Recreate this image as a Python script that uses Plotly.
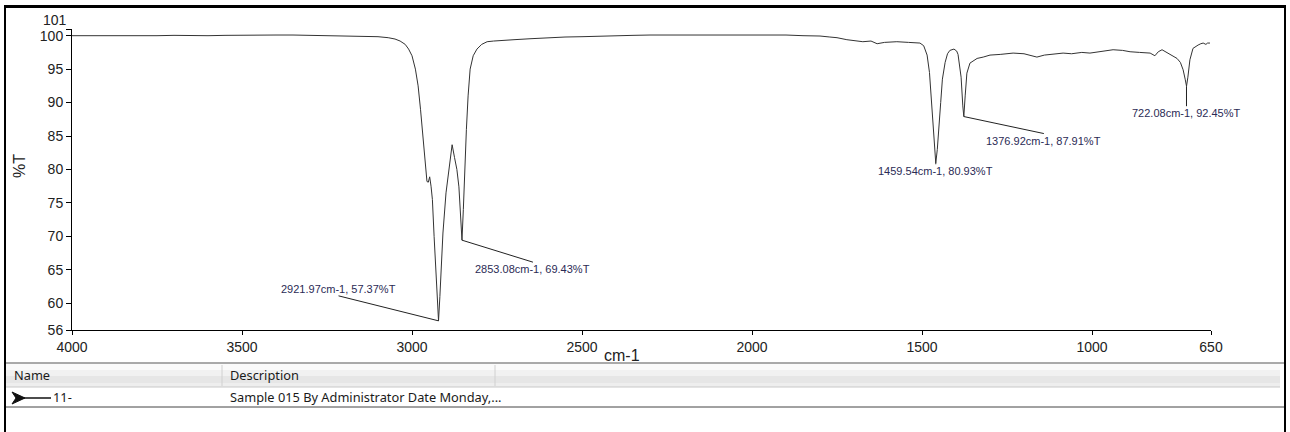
import plotly.graph_objects as go

# ---------------- data ----------------
wavenumber = [4000, 3950, 3900, 3850, 3800, 3750, 3700, 3650, 3600, 3550, 3500, 3450, 3400,
              3350, 3300, 3250, 3200, 3150, 3100, 3070, 3050, 3035, 3020, 3010, 3000, 2990,
              2982, 2975, 2968, 2962, 2956, 2952, 2948, 2944, 2940, 2935, 2930, 2926, 2922,
              2918, 2913, 2909, 2900, 2890, 2882, 2875, 2868, 2862, 2857, 2853, 2849, 2845,
              2840, 2835, 2829, 2820, 2809, 2795, 2779, 2760, 2732, 2700, 2650, 2600, 2550,
              2500, 2450, 2400, 2350, 2300, 2250, 2200, 2150, 2100, 2050, 2000, 1950, 1900,
              1850, 1800, 1771, 1750, 1721, 1700, 1674, 1650, 1632, 1610, 1574, 1540, 1506,
              1495, 1485, 1478, 1472, 1467, 1463, 1459.5, 1455, 1450, 1445, 1440, 1432, 1425,
              1418, 1406, 1398, 1394, 1389, 1385, 1380, 1377, 1373, 1368, 1359, 1345, 1338,
              1320, 1300, 1270, 1232, 1200, 1180, 1162, 1140, 1110, 1085, 1060, 1030, 1006,
              980, 960, 938, 910, 888, 860, 829, 815, 805, 794, 780, 765, 750, 740, 732, 726,
              722, 718, 712, 703, 695, 688, 680, 673, 665, 660, 653]
transmittance = [100.0, 100.0, 99.95, 100.0, 99.9, 100.0, 100.05, 100.0, 100.0, 100.05, 100.1,
                 100.05, 100.1, 100.1, 100.0, 100.0, 99.95, 99.9, 99.85, 99.7, 99.5, 99.2, 98.7,
                 98.0, 97.0, 95.0, 92.5, 89.0, 85.4, 81.5, 78.2, 78.1, 78.9, 77.5, 75.5, 70.0,
                 64.5, 60.5, 57.37, 61.0, 66.0, 70.5, 76.5, 81.0, 83.7, 81.8, 80.0, 77.4, 72.5,
                 69.43, 74.0, 80.0, 86.0, 91.0, 95.0, 97.0, 98.0, 98.7, 99.1, 99.2, 99.25, 99.4,
                 99.55, 99.7, 99.8, 99.85, 99.95, 100.0, 100.05, 100.1, 100.1, 100.15, 100.1,
                 100.2, 100.2, 100.15, 100.1, 100.1, 100.0, 99.95, 99.8, 99.7, 99.4, 99.3, 99.1,
                 99.2, 98.8, 99.0, 99.1, 99.0, 98.9, 98.5, 97.1, 94.5, 90.0, 85.4, 82.5, 80.93,
                 83.0, 86.0, 90.0, 93.5, 96.0, 97.3, 97.8, 98.0, 97.7, 97.2, 95.5, 93.8, 89.5,
                 87.91, 91.0, 94.4, 95.9, 96.4, 96.6, 96.8, 97.1, 97.2, 97.4, 97.3, 97.0, 96.8,
                 97.1, 97.3, 97.4, 97.3, 97.5, 97.4, 97.6, 97.7, 97.9, 97.8, 97.6, 97.5, 97.4,
                 97.0, 97.6, 97.9, 97.5, 97.1, 96.6, 96.0, 94.9, 93.5, 92.45, 93.8, 96.4, 98.1,
                 98.4, 98.6, 98.8, 98.9, 98.7, 98.9, 98.9]

peak_wn = [2921.97, 2853.08, 1459.54, 1376.92, 722.08]
peak_T = [57.37, 69.43, 80.93, 87.91, 92.45]

x_ticks = [4000, 3500, 3000, 2500, 2000, 1500, 1000, 650]
y_ticks = [56, 60, 65, 70, 75, 80, 85, 90, 95, 100, 101]

x_title = "cm-1"
y_title = "%T"
table_headers = ["Name", "Description"]
row_name = "11-"
row_desc = "Sample 015 By Administrator Date Monday,..."

# ---------------- layout helpers ----------------
W, H = 1290, 432
L, R, T, B = 72, 1211, 29, 330


def px(x):
    return (x - L) / (R - L)


def py(y):
    return (B - y) / (B - T)


fig = go.Figure()
fig.add_trace(go.Scatter(x=wavenumber, y=transmittance, mode="lines",
                         line=dict(color="#333333", width=1), hoverinfo="skip",
                         showlegend=False))

# peak labels with leader lines
offsets = [(-100, -25, "bottom"), (71, 22, "top"), (0, 1, "top"), (80, 17, "top"), (0, 20, "top")]
for w, t, (ax, ay, ya) in zip(peak_wn, peak_T, offsets):
    fig.add_annotation(x=w, y=t, xref="x", yref="y",
                       text=f"{w:.2f}cm-1, {t:.2f}%T",
                       showarrow=True, arrowhead=0, arrowwidth=1, arrowcolor="#222222",
                       ax=ax, ay=ay, xanchor="center", yanchor=ya, standoff=0,
                       borderpad=0,
                       font=dict(family="Liberation Sans", size=11, color="#2b2b55"))

axis_font = dict(family="Liberation Sans", size=14, color="#222222")


def label(x, y, text, font, xanchor="center", **kw):
    fig.add_annotation(x=px(x), y=py(y), xref="paper", yref="paper", text=text,
                       showarrow=False, xanchor=xanchor, yanchor="middle", font=font, **kw)


# axis titles
label(622, 356, x_title, dict(family="Liberation Sans", size=16, color="#222"))
label(19, 166, y_title, dict(family="Liberation Sans", size=16, color="#222"), textangle=-90)
# top tick label "101" drawn slightly raised (as in the reference) to avoid overlapping "100"
label(69, 20, str(y_ticks[-1]), axis_font, xanchor="right")

shapes = []
# header gradient bands
bands = [(364, 370, "#fafafa"), (370, 376, "#f1f1f1"), (376, 383, "#e6e6e6"), (383, 387, "#eeeeee")]
for y0, y1, c in bands:
    shapes.append(dict(type="rect", xref="paper", yref="paper", x0=px(6), x1=px(1280),
                       y0=py(y1), y1=py(y0), fillcolor=c, line=dict(width=0), layer="below"))
# table lines
shapes.append(dict(type="line", xref="paper", yref="paper", x0=px(5), x1=px(1285),
                   y0=py(363), y1=py(363), line=dict(color="#555555", width=1)))
shapes.append(dict(type="line", xref="paper", yref="paper", x0=px(5), x1=px(1280),
                   y0=py(387), y1=py(387), line=dict(color="#c8c8c8", width=1)))
shapes.append(dict(type="line", xref="paper", yref="paper", x0=px(5), x1=px(1285),
                   y0=py(407), y1=py(407), line=dict(color="#444444", width=1)))
for cx in (222, 495):
    shapes.append(dict(type="line", xref="paper", yref="paper", x0=px(cx), x1=px(cx),
                       y0=py(386), y1=py(365), line=dict(color="#d0d0d0", width=1)))
# row icon: arrowhead + line
shapes.append(dict(type="path", xref="paper", yref="paper",
                   path=f"M {px(12)},{py(392)} L {px(25)},{py(398)} L {px(12)},{py(404)} L {px(16)},{py(398)} Z",
                   fillcolor="#111111", line=dict(color="#111111", width=1)))
shapes.append(dict(type="line", xref="paper", yref="paper", x0=px(23), x1=px(51),
                   y0=py(398), y1=py(398), line=dict(color="#111111", width=1.5)))
# outer frame
shapes.append(dict(type="line", xref="paper", yref="paper", x0=px(4), x1=px(1286),
                   y0=py(6.5), y1=py(6.5), line=dict(color="#000000", width=3)))
shapes.append(dict(type="line", xref="paper", yref="paper", x0=px(5), x1=px(5),
                   y0=py(5), y1=py(440), line=dict(color="#000000", width=2)))
shapes.append(dict(type="line", xref="paper", yref="paper", x0=px(1285), x1=px(1285),
                   y0=py(5), y1=py(440), line=dict(color="#000000", width=2)))

tfont = dict(family="Noto Sans", size=12.8, color="#1a1a1a")
label(12, 375, table_headers[0], tfont, xanchor="left")
label(228, 375, table_headers[1], tfont, xanchor="left")
label(51, 397, row_name, tfont, xanchor="left")
label(228, 397, row_desc, tfont, xanchor="left")

fig.update_layout(
    width=W, height=H, autosize=False,
    margin=dict(l=L, r=W - R, t=T, b=H - B, pad=0),
    paper_bgcolor="white", plot_bgcolor="white",
    shapes=shapes,
    xaxis=dict(range=[4000, 650], tickmode="array", tickvals=x_ticks,
               ticktext=[str(v) for v in x_ticks], showgrid=False, zeroline=False,
               showline=True, linecolor="#000000", linewidth=1, ticks="outside",
               ticklen=4, tickcolor="#000000", tickfont=axis_font),
    yaxis=dict(range=[56, 101], tickmode="array", tickvals=y_ticks,
               ticktext=[str(v) for v in y_ticks[:-1]] + [""], showgrid=False, zeroline=False,
               showline=True, linecolor="#000000", linewidth=1, ticks="outside",
               ticklen=5, tickcolor="#000000", tickfont=axis_font),
)

fig.write_html("out.html", config={"displayModeBar": False})

# remove the browser's default page margin so the figure sits at the window origin
with open("out.html", "r", encoding="utf-8") as f:
    html = f.read()
html = html.replace("<head>", "<head><style>html,body{margin:0;padding:0;overflow:hidden;}</style>", 1)
with open("out.html", "w", encoding="utf-8") as f:
    f.write(html)
